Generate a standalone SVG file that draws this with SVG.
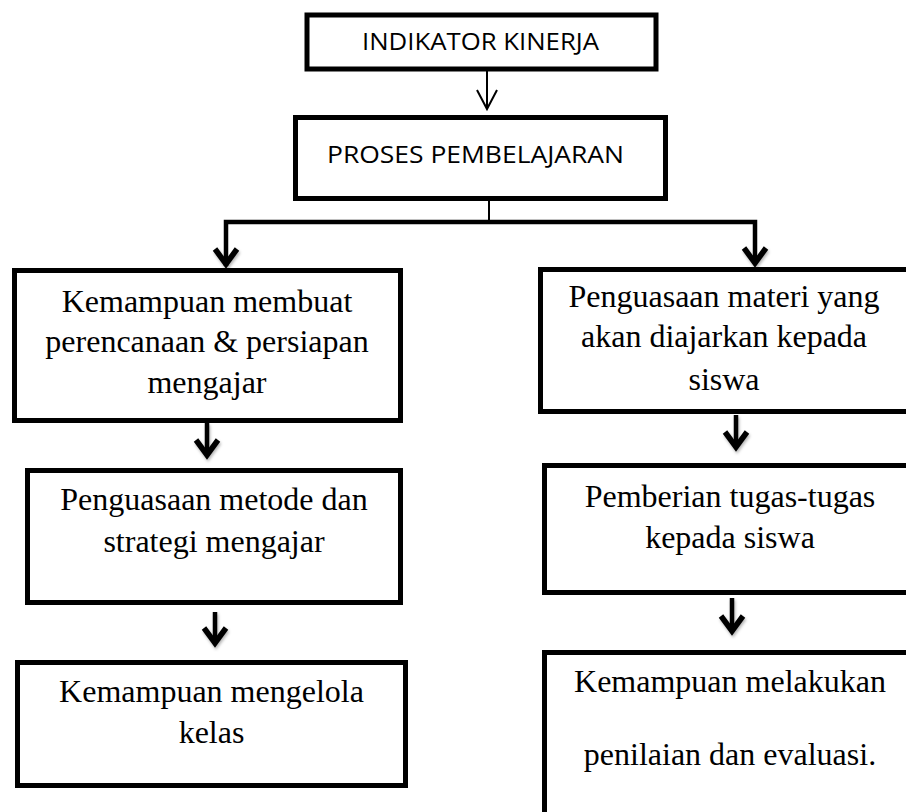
<svg xmlns="http://www.w3.org/2000/svg" width="906" height="812" viewBox="0 0 906 812">
<defs>
<filter id="sh" x="-50%" y="-50%" width="200%" height="200%">
<feDropShadow dx="1" dy="2" stdDeviation="1.5" flood-color="#000" flood-opacity="0.3"/>
</filter>
</defs>
<style>
.box{fill:#fff;stroke:#000;stroke-width:5}
.sans{font-family:"Open Sans","Liberation Sans",sans-serif;font-size:23px;fill:#000;text-anchor:middle}
.serif{font-family:"Liberation Serif","Times New Roman",serif;font-size:32px;fill:#000;text-anchor:middle}
.ln{fill:none;stroke:#000;stroke-width:4.5}
.thin{fill:none;stroke:#000;stroke-width:2}
.hd{fill:none;stroke:#000;stroke-width:5.5;stroke-linejoin:miter;stroke-linecap:butt}
</style>
<rect width="906" height="812" fill="#fff"/>
<g id="connectors">
<path class="thin" d="M487 71 V109"/>
<path class="thin" d="M477 90 L487 109 L497 90"/>
<path class="thin" d="M489 200 V222"/>
<path class="ln" d="M226 266 V222 H755 V264"/>
<g filter="url(#sh)">
<path class="hd" d="M215 249 L226 264 L237 249"/>
<path class="hd" d="M744 248 L755 263 L766 248"/>
<path class="ln" d="M207 423 V455"/>
<path class="hd" d="M196 440 L207 455 L218 440"/>
<path class="ln" d="M215 612 V643"/>
<path class="hd" d="M204 628 L215 643 L226 628"/>
<path class="ln" d="M736 415 V447"/>
<path class="hd" d="M725 432 L736 447 L747 432"/>
<path class="ln" d="M732 598 V631"/>
<path class="hd" d="M721 616 L732 631 L743 616"/>
</g>
</g>
<g id="indikator">
<rect class="box" x="307" y="15" width="349" height="54" stroke-width="4.5"/>
<text class="sans" x="480.5" y="50" textLength="237" lengthAdjust="spacingAndGlyphs">INDIKATOR KINERJA</text>
</g>
<g id="proses">
<rect class="box" x="295.5" y="117.5" width="370" height="81"/>
<text class="sans" x="475.5" y="163" textLength="297" lengthAdjust="spacingAndGlyphs">PROSES PEMBELAJARAN</text>
</g>
<g id="perencanaan">
<rect class="box" x="14.5" y="270.5" width="386" height="150"/>
<text class="serif" x="207" y="312">Kemampuan membuat</text>
<text class="serif" x="207" y="352">perencanaan &amp; persiapan</text>
<text class="serif" x="207" y="393">mengajar</text>
</g>
<g id="metode">
<rect class="box" x="27.5" y="470.5" width="373" height="132"/>
<text class="serif" x="214" y="510">Penguasaan metode dan</text>
<text class="serif" x="214" y="552">strategi mengajar</text>
</g>
<g id="kelas">
<rect class="box" x="17.5" y="662.5" width="388" height="123"/>
<text class="serif" x="211.5" y="702">Kemampuan mengelola</text>
<text class="serif" x="211.5" y="743">kelas</text>
</g>
<g id="materi">
<rect class="box" x="540.5" y="269.5" width="400" height="142"/>
<text class="serif" x="724" y="307">Penguasaan materi yang</text>
<text class="serif" x="724" y="347">akan diajarkan kepada</text>
<text class="serif" x="724" y="390">siswa</text>
</g>
<g id="tugas">
<rect class="box" x="544.5" y="465.5" width="400" height="127"/>
<text class="serif" x="730" y="507">Pemberian tugas-tugas</text>
<text class="serif" x="730" y="548">kepada siswa</text>
</g>
<g id="penilaian">
<rect class="box" x="544.5" y="652.5" width="400" height="200"/>
<text class="serif" x="730" y="692">Kemampuan melakukan</text>
<text class="serif" x="730" y="765">penilaian dan evaluasi.</text>
</g>
</svg>
